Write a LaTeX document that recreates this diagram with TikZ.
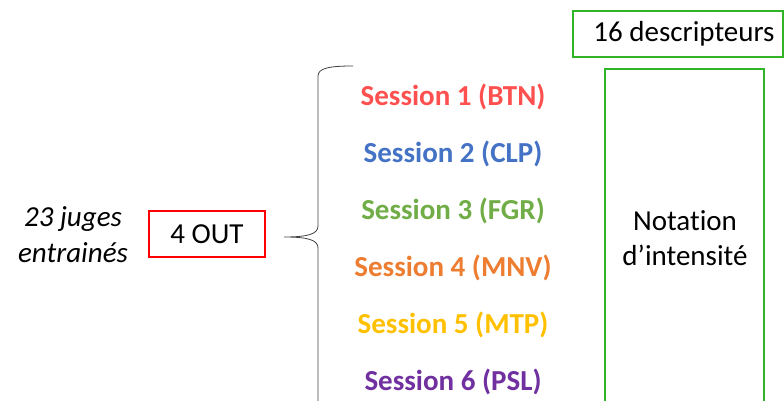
\documentclass[tikz,border=0pt]{standalone}
\usepackage{fontspec}
\setmainfont{Carlito}[Ligatures=NoCommon]
\definecolor{cred}{RGB}{255,80,80}
\definecolor{cblue}{RGB}{68,114,196}
\definecolor{cgreen}{RGB}{112,173,71}
\definecolor{corange}{RGB}{237,125,49}
\definecolor{cgold}{RGB}{255,192,0}
\definecolor{cpurple}{RGB}{112,48,160}
\definecolor{boxgreen}{RGB}{50,180,40}
\begin{document}
\begin{tikzpicture}[x=1pt,y=-1pt,
  sess/.style={font=\fontsize{29}{35}\selectfont\bfseries, anchor=center},
  plain/.style={font=\fontsize{29}{35}\selectfont, align=center},
  redbox/.style={draw=red, line width=1.3pt, minimum width=116pt, minimum height=46pt, font=\fontsize{29}{35}\selectfont},
  greenbox/.style={draw=boxgreen, line width=1.3pt}]
\useasboundingbox (0,0) rectangle (784,401);
\clip (0,0) rectangle (784,401);
\node[plain, font=\fontsize{29}{36}\selectfont\itshape] (juges) at (73,235) {23 juges\\entrainés};
\node[redbox] (out) at (207,234) {4 OUT};
\draw[line width=0.8pt, black!75] (353,66) .. controls (330,66) and (318,68) .. (318,76)
  -- (318,226) .. controls (318,234) and (308,237) .. (284,237)
  .. controls (308,237) and (318,240) .. (318,248) -- (318,420);
\node[sess, text=cred] (s1) at (453,97) {Session 1 (BTN)};
\node[sess, text=cblue] (s2) at (453,154) {Session 2 (CLP)};
\node[sess, text=cgreen] (s3) at (453,211) {Session 3 (FGR)};
\node[sess, text=corange] (s4) at (453,268) {Session 4 (MNV)};
\node[sess, text=cgold] (s5) at (453,325) {Session 5 (MTP)};
\node[sess, text=cpurple] (s6) at (453,382) {Session 6 (PSL)};
\draw[greenbox] (573,11) rectangle (783,57);
\node[plain] (desc) at (684,34) {16 descripteurs};
\draw[greenbox] (605,69) rectangle (764,420);
\node[plain] (nota) at (685,238) {Notation\\d’intensité};
\end{tikzpicture}
\end{document}
